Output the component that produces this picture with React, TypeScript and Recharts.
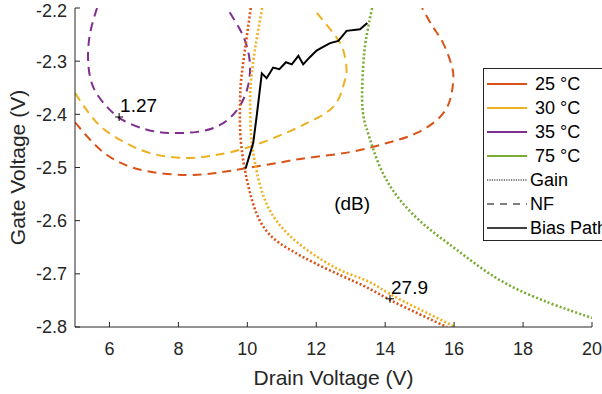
import {
  ComposedChart,
  Line,
  Scatter,
  XAxis,
  YAxis,
  Legend,
  ReferenceDot,
  Label,
} from 'recharts'

const xTicks = [6, 8, 10, 12, 14, 16, 18, 20]
const yTicks = [-2.8, -2.7, -2.6, -2.5, -2.4, -2.3, -2.2]

const temps = ['25 °C', '30 °C', '35 °C', '75 °C']
const tempColors = ['#D95319', '#EDB120', '#7E2F8E', '#77AC30']

// gain contours (dotted)
const gain25 = [
  { x: 10.1, y: -2.2 }, { x: 9.93, y: -2.279 }, { x: 9.82, y: -2.335 },
  { x: 9.79, y: -2.373 }, { x: 9.8, y: -2.44 }, { x: 9.93, y: -2.505 },
  { x: 10.08, y: -2.548 }, { x: 10.31, y: -2.593 }, { x: 10.72, y: -2.631 },
  { x: 11.3, y: -2.657 }, { x: 11.96, y: -2.68 }, { x: 12.75, y: -2.704 },
  { x: 13.45, y: -2.725 }, { x: 14.14, y: -2.749 }, { x: 15.0, y: -2.776 },
  { x: 15.79, y: -2.8 },
]
const gain30 = [
  { x: 10.43, y: -2.2 }, { x: 10.22, y: -2.279 }, { x: 10.11, y: -2.335 },
  { x: 10.08, y: -2.373 }, { x: 10.1, y: -2.43 }, { x: 10.16, y: -2.467 },
  { x: 10.28, y: -2.51 }, { x: 10.51, y: -2.561 }, { x: 10.89, y: -2.604 },
  { x: 11.47, y: -2.642 }, { x: 12.17, y: -2.674 }, { x: 12.83, y: -2.697 },
  { x: 13.5, y: -2.714 }, { x: 14.14, y: -2.738 }, { x: 15.01, y: -2.767 },
  { x: 16.03, y: -2.8 },
]
const gain75 = [
  { x: 13.62, y: -2.2 }, { x: 13.44, y: -2.26 }, { x: 13.36, y: -2.311 },
  { x: 13.33, y: -2.373 }, { x: 13.39, y: -2.411 }, { x: 13.5, y: -2.435 },
  { x: 13.85, y: -2.499 }, { x: 14.43, y: -2.561 }, { x: 15.21, y: -2.612 },
  { x: 16.08, y: -2.655 }, { x: 17.33, y: -2.712 }, { x: 18.78, y: -2.755 },
  { x: 20, y: -2.783 },
]

// noise figure contours (dashed)
const nf25 = [
  { x: 5.0, y: -2.415 }, { x: 5.64, y: -2.461 }, { x: 6.31, y: -2.491 },
  { x: 7.18, y: -2.508 }, { x: 8.25, y: -2.514 }, { x: 9.12, y: -2.51 },
  { x: 9.99, y: -2.501 }, { x: 11.0, y: -2.49 }, { x: 11.73, y: -2.482 },
  { x: 12.98, y: -2.471 }, { x: 14.05, y: -2.454 }, { x: 14.92, y: -2.435 },
  { x: 15.59, y: -2.405 }, { x: 15.88, y: -2.373 }, { x: 15.97, y: -2.341 },
  { x: 15.94, y: -2.311 }, { x: 15.68, y: -2.266 }, { x: 15.39, y: -2.236 },
  { x: 15.07, y: -2.2 },
]
const nf30 = [
  { x: 5.0, y: -2.36 }, { x: 5.64, y: -2.416 }, { x: 6.31, y: -2.448 },
  { x: 7.18, y: -2.473 }, { x: 8.25, y: -2.482 }, { x: 9.12, y: -2.476 },
  { x: 10.08, y: -2.461 }, { x: 11.33, y: -2.429 }, { x: 11.8, y: -2.414 },
  { x: 12.49, y: -2.386 }, { x: 12.8, y: -2.343 }, { x: 12.88, y: -2.317 },
  { x: 12.78, y: -2.279 }, { x: 12.49, y: -2.247 }, { x: 11.9, y: -2.2 },
]
const nf35 = [
  { x: 5.64, y: -2.2 }, { x: 5.44, y: -2.247 }, { x: 5.38, y: -2.298 },
  { x: 5.53, y: -2.349 }, { x: 5.93, y: -2.386 }, { x: 6.39, y: -2.411 },
  { x: 7.09, y: -2.429 }, { x: 7.76, y: -2.435 }, { x: 8.54, y: -2.433 },
  { x: 9.21, y: -2.42 }, { x: 9.7, y: -2.392 }, { x: 9.99, y: -2.354 },
  { x: 10.08, y: -2.311 }, { x: 9.99, y: -2.273 }, { x: 9.79, y: -2.241 },
  { x: 9.41, y: -2.2 },
]

const biasPath = [
  { x: 9.95, y: -2.502 }, { x: 10.17, y: -2.454 }, { x: 10.27, y: -2.404 },
  { x: 10.42, y: -2.323 }, { x: 10.56, y: -2.332 }, { x: 10.75, y: -2.312 },
  { x: 10.93, y: -2.315 }, { x: 11.12, y: -2.302 }, { x: 11.29, y: -2.306 },
  { x: 11.48, y: -2.29 }, { x: 11.62, y: -2.306 }, { x: 11.82, y: -2.292 },
  { x: 12.01, y: -2.28 }, { x: 12.2, y: -2.273 }, { x: 12.4, y: -2.266 },
  { x: 12.64, y: -2.262 }, { x: 12.88, y: -2.243 }, { x: 13.27, y: -2.24 },
  { x: 13.48, y: -2.228 },
]

// contour labels
const markers = [
  { x: 6.28, y: -2.405, label: '1.27' },
  { x: 14.14, y: -2.747, label: '27.9' },
]
const unitLabel = { x: 13.04, y: -2.567, text: '(dB)' }

const FONT = '"Liberation Sans", Arial, Helvetica, sans-serif'
const AX = '#262626'
const DOT = '2 2.2'
const DASH = '9 6'

const MarkerShape = (props: any) => {
  const { cx, cy, payload } = props
  return (
    <g>
      <path
        d={`M${cx - 4},${cy}H${cx + 4}M${cx},${cy - 4}V${cy + 4}`}
        stroke="#000"
        strokeWidth={1}
      />
      <text x={cx + 1} y={cy - 5} fontSize={19} fill="#000" fontFamily={FONT}>
        {payload.label}
      </text>
    </g>
  )
}

const legendRows = [
  ...temps.map((t, i) => ({ label: t, color: tempColors[i], dash: undefined as string | undefined, gap: 8, w: 2 })),
  { label: 'Gain', color: '#000', dash: '1.2 1.2', gap: 3, w: 1.2 },
  { label: 'NF', color: '#000', dash: '7 6', gap: 3, w: 1.2 },
  { label: 'Bias Path', color: '#000', dash: undefined, gap: 3, w: 1.5 },
]

const renderLegend = () => (
  <div
    style={{
      border: `1px solid ${AX}`,
      background: '#fff',
      width: 140,
      padding: '3px 0 0 3px',
      boxSizing: 'border-box',
      fontFamily: FONT,
      fontSize: 18,
      color: '#000',
    }}
  >
    {legendRows.map((r) => (
      <div key={r.label} style={{ display: 'flex', alignItems: 'center', height: 24 }}>
        <svg width={40} height={24}>
          <line x1={0} y1={12} x2={40} y2={12} stroke={r.color} strokeWidth={r.w} strokeDasharray={r.dash} />
        </svg>
        <span style={{ marginLeft: r.gap, whiteSpace: 'nowrap' }}>{r.label}</span>
      </div>
    ))}
  </div>
)

export default function App() {
  const common = {
    xAxisId: 'b',
    yAxisId: 'l',
    dataKey: 'y',
    dot: false,
    activeDot: false,
    isAnimationActive: false,
    legendType: 'none' as const,
    strokeWidth: 2,
    type: 'natural' as const,
  }
  return (
    <div style={{ position: 'absolute', left: 0, top: 0, width: 602, height: 394, overflow: 'hidden', background: '#fff' }}>
      <ComposedChart
        width={602}
        height={394}
        margin={{ top: 8, right: 10, bottom: 0, left: 0 }}
        style={{ fontFamily: FONT }}
      >
        <XAxis
          xAxisId="b"
          dataKey="x"
          type="number"
          domain={[5, 20]}
          ticks={xTicks}
          allowDataOverflow
          height={67}
          tickSize={-5}
          tickMargin={20}
          stroke={AX}
          tick={{ fill: AX, fontSize: 18 }}
        >
          <Label
            content={(p: any) => {
              const vb = p.viewBox
              return (
                <text x={vb.x + vb.width / 2} y={vb.y + 58} textAnchor="middle" fontSize={21} fill={AX} fontFamily={FONT}>
                  Drain Voltage (V)
                </text>
              )
            }}
          />
        </XAxis>
        <XAxis
          xAxisId="t"
          orientation="top"
          type="number"
          dataKey="x"
          domain={[5, 20]}
          ticks={xTicks}
          allowDataOverflow
          height={0}
          tickSize={-5}
          tickFormatter={() => ''}
          stroke={AX}
        />
        <YAxis
          yAxisId="l"
          type="number"
          domain={[-2.8, -2.2]}
          ticks={yTicks}
          allowDataOverflow
          width={75}
          tickSize={-5}
          tickMargin={13}
          tickFormatter={(v: number) => v.toFixed(1)}
          stroke={AX}
          tick={{ fill: AX, fontSize: 18 }}
        >
          <Label
            content={(p: any) => {
              const vb = p.viewBox
              const cx = 25
              const cy = vb.y + vb.height / 2
              return (
                <text x={cx} y={cy} transform={`rotate(-90 ${cx} ${cy})`} textAnchor="middle" fontSize={21} fill={AX} fontFamily={FONT}>
                  Gate Voltage (V)
                </text>
              )
            }}
          />
        </YAxis>
        <YAxis
          yAxisId="r"
          orientation="right"
          type="number"
          domain={[-2.8, -2.2]}
          ticks={yTicks}
          allowDataOverflow
          width={0}
          tickSize={-5}
          tickFormatter={() => ''}
          stroke={AX}
        />

        <Line {...common} data={nf25} stroke={tempColors[0]} strokeDasharray={DASH} />
        <Line {...common} data={nf30} stroke={tempColors[1]} strokeDasharray={DASH} />
        <Line {...common} data={nf35} stroke={tempColors[2]} strokeDasharray={DASH} />
        <Line {...common} data={gain25} stroke={tempColors[0]} strokeDasharray={DOT} strokeWidth={2.6} />
        <Line {...common} data={gain30} stroke={tempColors[1]} strokeDasharray={DOT} strokeWidth={2.6} />
        <Line {...common} data={gain75} stroke={tempColors[3]} strokeDasharray={DOT} strokeWidth={2.6} />
        <Line {...common} type="linear" data={biasPath} stroke="#000" />

        <Scatter
          xAxisId="b"
          yAxisId="l"
          data={markers}
          dataKey="y"
          shape={MarkerShape}
          isAnimationActive={false}
          legendType="none"
        />
        <ReferenceDot
          xAxisId="b"
          yAxisId="l"
          x={unitLabel.x}
          y={unitLabel.y}
          r={0}
          stroke="none"
          fill="none"
          label={{ value: unitLabel.text, position: 'center', fontSize: 19, fill: '#000' }}
        />

        <Legend
          layout="vertical"
          align="center"
          verticalAlign="middle"
          content={renderLegend}
          wrapperStyle={{ left: 483, top: 68, width: 140, height: 173 }}
        />
      </ComposedChart>
    </div>
  )
}
